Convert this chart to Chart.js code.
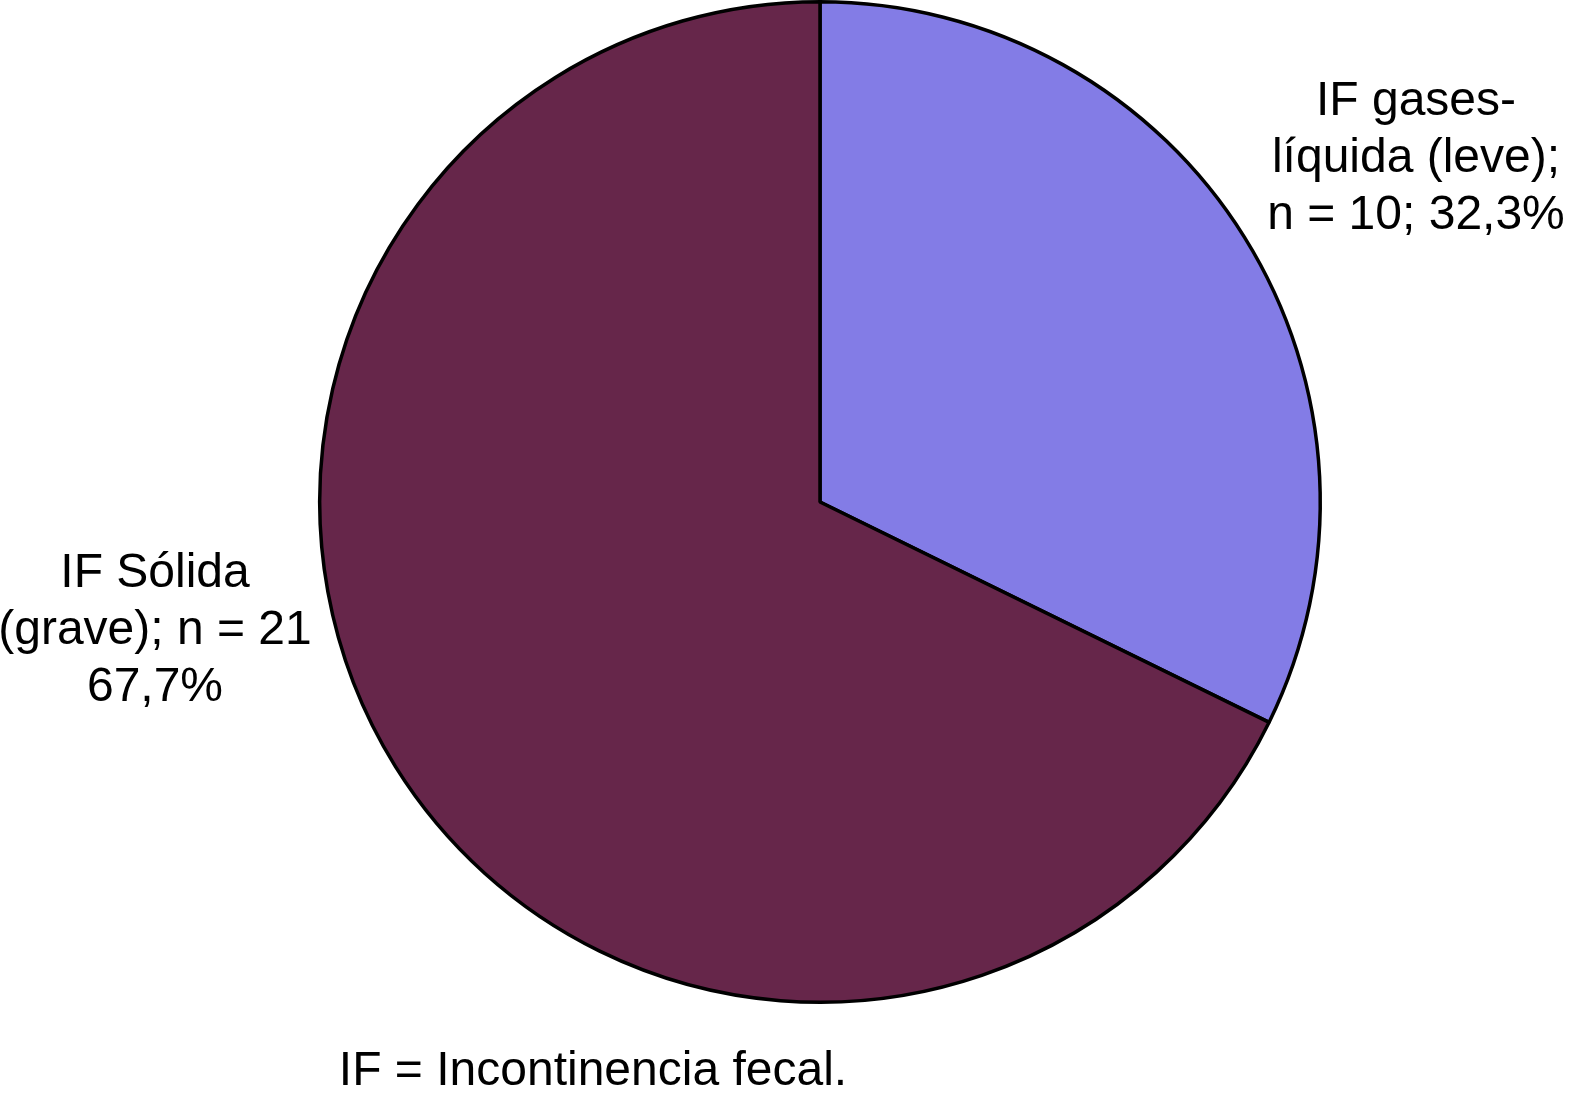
<!DOCTYPE html>
<html>
<head>
<meta charset="utf-8">
<script src="https://cdn.jsdelivr.net/npm/chart.js@4.4.0/dist/chart.umd.min.js"></script>
<style>
    html, body { margin: 0; padding: 0; background: #ffffff; }
    canvas { display: block; }
</style>
</head>
<body>
<canvas id="pie" width="1569" height="1097"></canvas>
<script>
// data
var categories = ["IF gases-líquida (leve)", "IF Sólida (grave)"];
var counts = [10, 21];
var sliceColors = ["#837ce6", "#66264a"];
var labelLines = [
    ["IF gases-", "líquida (leve);", "n = 10; 32,3%"],
    ["IF Sólida", "(grave); n = 21", "67,7%"]
];
var caption = "IF = Incontinencia fecal.";

// label anchor: centre x and first baseline y for each slice
var labelAnchors = [
    { x: 1416, y: 115 },
    { x: 155, y: 587 }
];

const sideLabels = {
    id: 'sideLabels',
    afterDraw(chart) {
        const ctx = chart.ctx;
        ctx.save();
        ctx.fillStyle = '#000000';
        ctx.font = '48px "Liberation Sans", Arial, sans-serif';
        ctx.textAlign = 'center';
        ctx.textBaseline = 'alphabetic';
        for (let i = 0; i < labelLines.length; i++) {
            let a = labelAnchors[i];
            for (let j = 0; j < labelLines[i].length; j++) {
                ctx.fillText(labelLines[i][j], a.x, a.y + j * 57);
            }
        }
        ctx.fillText(caption, 593, 1085);
        ctx.restore();
    }
};

var ctxPie = document.getElementById('pie').getContext('2d');
var pieChart = new Chart(ctxPie, {
    type: 'pie',
    data: {
        labels: categories,
        datasets: [{
            data: counts,
            backgroundColor: sliceColors,
            borderColor: '#000000',
            borderWidth: 3.5,
            borderAlign: 'center'
        }]
    },
    options: {
        responsive: false,
        animation: false,
        layout: {
            padding: { left: 318, right: 247, top: 0, bottom: 93 }
        },
        plugins: {
            legend: { display: false },
            tooltip: { enabled: false }
        }
    },
    plugins: [sideLabels]
});
</script>
</body>
</html>
